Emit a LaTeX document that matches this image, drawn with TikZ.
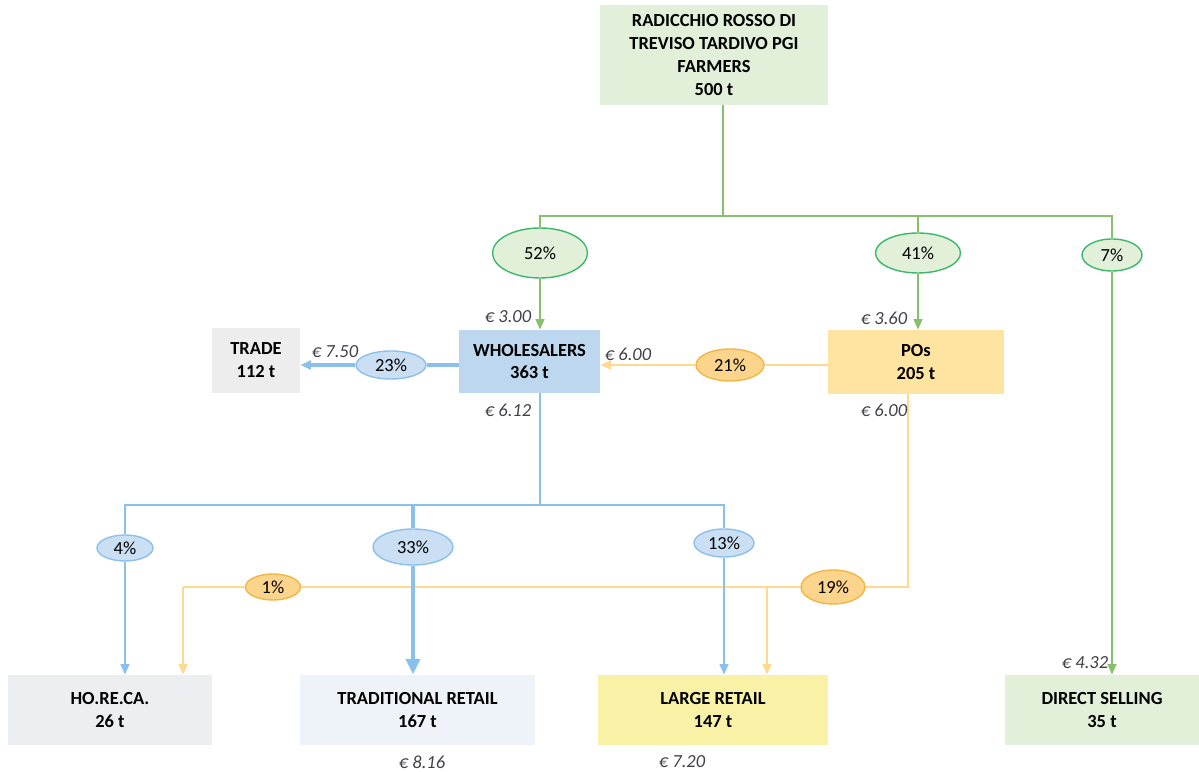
\documentclass[tikz,border=0pt]{standalone}
\usepackage{fontspec}
\setmainfont{Carlito}
\usepackage{xcolor}
\usepackage{tikz}
\usetikzlibrary{arrows.meta,shapes.geometric}
\definecolor{RRGreenFill}{HTML}{E2EFD9}
\definecolor{RRGreenLine}{HTML}{86C06C}
\definecolor{RRGreenEdge}{HTML}{3DB86A}
\definecolor{RRBlueFill}{HTML}{BDD7EE}
\definecolor{RRBlueLine}{HTML}{8CC0EC}
\definecolor{RRBlueOval}{HTML}{CADFF3}
\definecolor{RROrangeFill}{HTML}{FFE3A0}
\definecolor{RROrangeLine}{HTML}{FFD98E}
\definecolor{RROrangeOval}{HTML}{FDD48C}
\definecolor{RROrangeEdge}{HTML}{F0B748}
\definecolor{RRGrey}{HTML}{EDEDED}
\definecolor{RRGreyBlue}{HTML}{EDEEF2}
\definecolor{RRPaleBlue}{HTML}{EEF3FA}
\definecolor{RRYellow}{HTML}{F9F2A6}
\definecolor{RRPrice}{HTML}{404048}
\begin{document}
\begin{tikzpicture}[x=1cm,y=1cm,
  box/.style={rectangle,inner sep=2pt,align=center,font=\fontsize{10.5}{13}\selectfont\bfseries},
  share/.style={ellipse,inner sep=0pt,line width=0.8pt,font=\fontsize{10.5}{13}\selectfont},
  gshare/.style={share,draw=RRGreenEdge,fill=RRGreenFill},
  bshare/.style={share,draw=RRBlueLine,fill=RRBlueOval},
  oshare/.style={share,draw=RROrangeEdge,fill=RROrangeOval},
  price/.style={font=\fontsize{10.5}{13}\selectfont\itshape,text=RRPrice,inner sep=1pt},
  gline/.style={draw=RRGreenLine,line width=1.1pt},
  bline/.style={draw=RRBlueLine,line width=1.1pt},
  oline/.style={draw=RROrangeLine,line width=1.4pt},
  tip/.style={-{Triangle[length=6pt,width=5pt]}},
  bigtip/.style={-{Triangle[length=9pt,width=8pt]}}]
\path[use as bounding box] (0,0) rectangle (23.98,15.44);

\node[box,fill=RRGreenFill,minimum width=4.56cm,minimum height=2.00cm] (farmers) at (14.28,14.34) {RADICCHIO ROSSO DI\\TREVISO TARDIVO PGI\\FARMERS\\500 t};
\node[box,fill=RRBlueFill,minimum width=2.82cm,minimum height=1.26cm] (whole) at (10.59,8.21) {WHOLESALERS\\363 t};
\node[box,fill=RROrangeFill,minimum width=3.52cm,minimum height=1.28cm] (pos) at (18.32,8.20) {POs\\205 t};
\node[box,fill=RRGrey,minimum width=1.76cm,minimum height=1.30cm] (trade) at (5.12,8.23) {TRADE\\112 t};
\node[box,fill=RRGreyBlue,minimum width=4.08cm,minimum height=1.40cm] (horeca) at (2.20,1.24) {HO.RE.CA.\\26 t};
\node[box,fill=RRPaleBlue,minimum width=4.70cm,minimum height=1.40cm] (trad) at (8.35,1.24) {TRADITIONAL RETAIL\\167 t};
\node[box,fill=RRYellow,minimum width=4.60cm,minimum height=1.40cm] (large) at (14.26,1.24) {LARGE RETAIL\\147 t};
\node[box,fill=RRGreenFill,minimum width=3.88cm,minimum height=1.40cm] (direct) at (22.04,1.24) {DIRECT SELLING\\35 t};

\node[gshare,minimum width=1.90cm,minimum height=1.00cm] (p52) at (10.80,10.38) {52\%};
\node[gshare,minimum width=1.70cm,minimum height=0.80cm] (p41) at (18.36,10.38) {41\%};
\node[gshare,minimum width=1.20cm,minimum height=0.64cm] (p7) at (22.24,10.34) {7\%};
\node[bshare,minimum width=1.40cm,minimum height=0.56cm] (p23) at (7.82,8.14) {23\%};
\node[oshare,minimum width=1.36cm,minimum height=0.64cm] (p21) at (14.60,8.14) {21\%};
\node[bshare,minimum width=1.12cm,minimum height=0.52cm] (p4) at (2.50,4.48) {4\%};
\node[bshare,minimum width=1.60cm,minimum height=0.72cm] (p33) at (8.26,4.50) {33\%};
\node[bshare,minimum width=1.20cm,minimum height=0.56cm] (p13) at (14.48,4.58) {13\%};
\node[oshare,minimum width=1.28cm,minimum height=0.68cm] (p19) at (16.66,3.70) {19\%};
\node[oshare,minimum width=1.10cm,minimum height=0.52cm] (p1) at (5.46,3.70) {1\%};

\coordinate (gsplit) at (14.46,11.12);
\coordinate (bsplit) at (10.80,5.34);
\coordinate (osplit) at (18.16,3.70);
\coordinate (ohoreca) at (3.66,3.70);
\coordinate (olarge) at (15.34,3.70);

\draw[gline] (gsplit |- farmers.south) -- (gsplit);
\draw[gline] (gsplit) -| (p52);
\draw[gline] (gsplit) -| (p41);
\draw[gline] (gsplit) -| (p7);
\draw[gline,tip] (p52) -- (p52 |- whole.north);
\draw[gline,tip] (p41) -- (p41 |- pos.north);
\draw[gline,tip] (p7) -- (p7 |- direct.north);

\draw[bline,line width=2.4pt] (whole.west |- p23) -- (p23);
\draw[bline,line width=2.4pt,tip] (p23) -- (p23 -| trade.east);
\draw[oline] (pos.west |- p21) -- (p21);
\draw[oline,tip] (p21) -- (p21 -| whole.east);

\draw[oline] (osplit |- pos.south) -- (osplit) -- (p19);
\draw[oline] (p19) -- (p1);
\draw[oline] (p1) -- (ohoreca);
\draw[oline,tip] (ohoreca) -- (ohoreca |- horeca.north);
\draw[oline,tip] (olarge) -- (olarge |- large.north);

\draw[bline] (bsplit |- whole.south) -- (bsplit);
\draw[bline] (bsplit) -| (p4);
\draw[bline] (bsplit) -| (p13);
\draw[bline,line width=2.8pt] (p33 |- bsplit) -- (p33);
\draw[bline,tip] (p4) -- (p4 |- horeca.north);
\draw[bline,line width=2.8pt,bigtip] (p33) -- (p33 |- trad.north);
\draw[bline,tip] (p13) -- (p13 |- large.north);

\node[price] (c300) at (10.16,9.10) {€ 3.00};
\node[price] (c750) at (6.70,8.40) {€ 7.50};
\node[price] (c612) at (10.16,7.24) {€ 6.12};
\node[price] (c600a) at (12.56,8.36) {€ 6.00};
\node[price] (c360) at (17.68,9.08) {€ 3.60};
\node[price] (c600b) at (17.68,7.24) {€ 6.00};
\node[price] (c816) at (8.44,0.20) {€ 8.16};
\node[price] (c720) at (13.64,0.20) {€ 7.20};
\node[price] (c432) at (21.70,2.18) {€ 4.32};
\end{tikzpicture}
\end{document}
